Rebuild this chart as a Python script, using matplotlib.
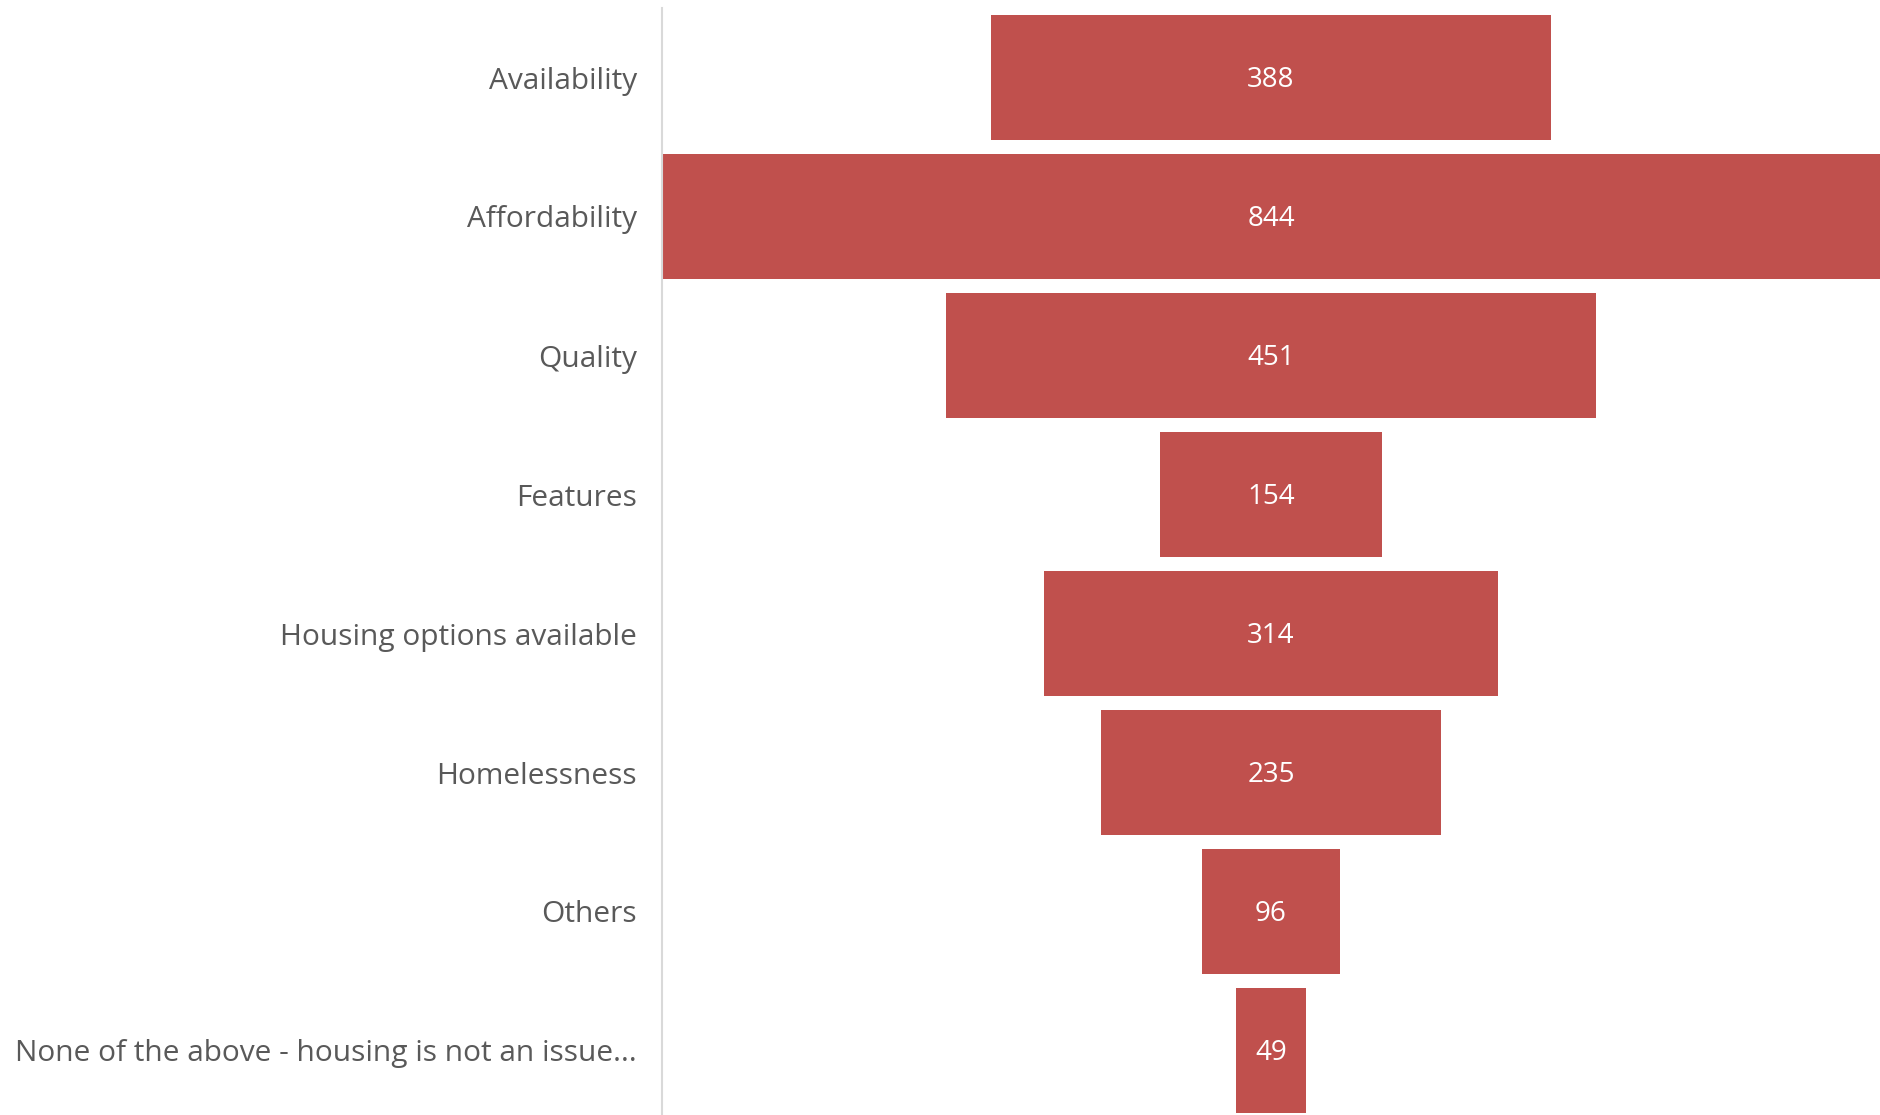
import matplotlib
matplotlib.use("Agg")
import matplotlib.pyplot as plt

# data
categories = ['Availability', 'Affordability', 'Quality', 'Features',
              'Housing options available', 'Homelessness', 'Others',
              'None of the above - housing is not an issue...']
counts = [388, 844, 451, 154, 314, 235, 96, 49]

plt.rcParams['font.family'] = ['Open Sans', 'DejaVu Sans']

fig = plt.figure(figsize=(18.8, 11.15), dpi=100)
ax = fig.add_axes([662 / 1880, 1 - 8 / 1115 - 8 * 139 / 1115, 1218 / 1880, 8 * 139 / 1115])

ypos = list(range(len(categories)))
lefts = [-c / 2 for c in counts]
ax.barh(ypos, counts, left=lefts, height=0.905, color='#C0504D')

for y, c in zip(ypos, counts):
    ax.text(0, y + 0.02, str(c), ha='center', va='center', color='white', fontsize=20)

ax.set_xlim(-422, 422)
ax.set_ylim(len(categories) - 0.5, -0.5)
ax.set_yticks(ypos)
ax.set_yticklabels(categories, fontsize=21.5, color='#595959')
ax.tick_params(axis='y', length=0, pad=18)
ax.set_xticks([])

for s in ['top', 'right', 'bottom']:
    ax.spines[s].set_visible(False)
ax.spines['left'].set_color('#D9D9D9')
ax.spines['left'].set_linewidth(1.5)

fig.savefig('out.png', dpi=100)
